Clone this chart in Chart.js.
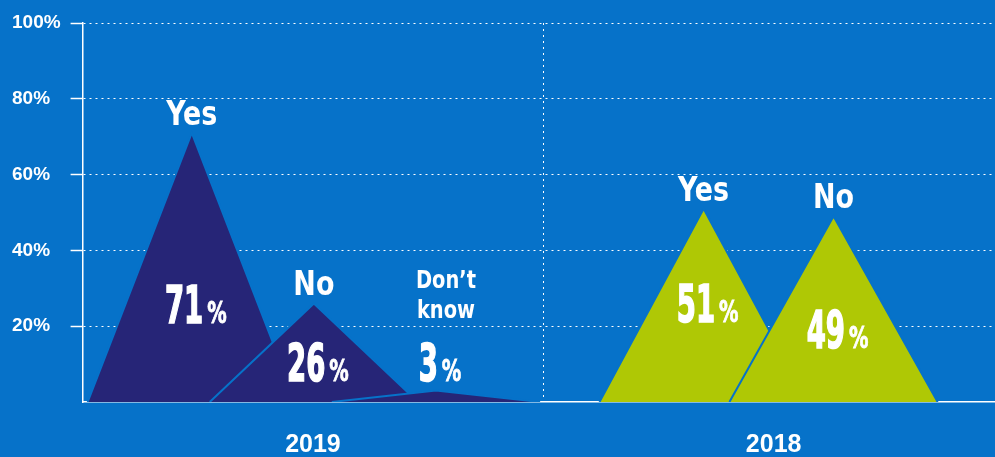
<!DOCTYPE html>
<html>
<head>
<meta charset="utf-8">
<script src="https://cdn.jsdelivr.net/npm/chart.js@4"></script>
<style>
  html, body { margin: 0; padding: 0; background: #0672c9; overflow: hidden; }
  #wrap { position: relative; width: 1005px; height: 488px; }
</style>
</head>
<body>
<div id="wrap"><canvas id="pollChart"></canvas></div>
<script>
const years = ['2019', '2018'];
const answers2019 = ['Yes', 'No', 'Don\u2019t know'];
const values2019 = [71, 26, 3];
const answers2018 = ['Yes', 'No'];
const values2018 = [51, 49];
const yTicks = [20, 40, 60, 80, 100];

const bg = '#0672c9';
const groupColors = ['#262577', '#afc805'];
// peak position inside each year column (column is 1 unit wide)
const peakOffsets = [[-0.263, 0.002, 0.267], [-0.152, 0.13]];
// height (in %) at which the value text is centred
const valueLevels = [[25.6, 10.3, 10.3], [25.9, 19]];
const halfBase = 0.226;
const narrow = '"Liberation Sans Narrow", "DejaVu Sans Condensed", "Liberation Sans", sans-serif';

const groups = [
    { answers: answers2019, values: values2019 },
    { answers: answers2018, values: values2018 }
];

const datasets = [];
groups.forEach((g, gi) => {
    g.values.forEach((v, i) => {
        const cx = gi + 0.5 + peakOffsets[gi][i];
        datasets.push({
            label: years[gi] + ' ' + g.answers[i],
            answer: g.answers[i],
            value: v,
            level: valueLevels[gi][i],
            data: [{ x: cx - halfBase, y: 0 }, { x: cx, y: v }, { x: cx + halfBase, y: 0 }],
            fill: 'origin',
            backgroundColor: groupColors[gi],
            borderColor: bg,
            borderWidth: 2,
            pointRadius: 0,
            tension: 0,
            order: -datasets.length
        });
    });
});

// text squeezed sideways, to get close to the condensed face of the original
function squeezed(ctx, text, x, y, font, sx, heavy) {
    ctx.save();
    ctx.translate(x, y);
    ctx.scale(sx, 1);
    ctx.font = font;
    ctx.fillText(text, 0, 0);
    if (heavy) {
        ctx.strokeStyle = '#ffffff';
        ctx.lineWidth = heavy;
        ctx.strokeText(text, 0, 0);
    }
    ctx.restore();
}

function drawValue(ctx, text, cx, cy) {
    const numFont = 'bold 51px ' + narrow;
    const pctFont = 'bold 30px ' + narrow;
    ctx.font = numFont;
    const wNum = ctx.measureText(text).width * 0.6;
    ctx.font = pctFont;
    const wPct = ctx.measureText('%').width * 0.72;
    const gap = 4;
    const left = cx - (wNum + gap + wPct) / 2;
    const base = cy + 18;
    ctx.textAlign = 'left';
    squeezed(ctx, text, left, base, numFont, 0.6, 1.6);
    squeezed(ctx, '%', left + wNum + gap, base, pctFont, 0.72, 0.8);
}

const peakLabels = {
    id: 'peakLabels',
    afterDatasetsDraw(chart) {
        const { ctx, scales: { x, y } } = chart;
        ctx.save();
        ctx.fillStyle = '#ffffff';
        ctx.textBaseline = 'alphabetic';
        chart.data.datasets.forEach(ds => {
            const peak = ds.data[1];
            const px = x.getPixelForValue(peak.x);
            const py = y.getPixelForValue(peak.y);
            const vy = y.getPixelForValue(ds.level);
            drawValue(ctx, String(ds.value), px + 4, vy);

            const words = ds.answer.split(' ');
            ctx.textAlign = 'center';
            if (words.length > 1) {
                const lastBase = Math.min(py - 10, vy - 19 - 26);
                words.forEach((w, i) => {
                    squeezed(ctx, w, px + 10, lastBase - (words.length - 1 - i) * 30, 'bold 24px ' + narrow, 0.9);
                });
            } else {
                squeezed(ctx, ds.answer, px, py - 8, 'bold 34px ' + narrow, 0.88);
            }
        });
        ctx.restore();
    }
};

new Chart(document.getElementById('pollChart'), {
    type: 'line',
    data: { datasets },
    options: {
        responsive: true,
        maintainAspectRatio: false,
        animation: false,
        layout: { padding: { left: 12, top: 23, right: 1, bottom: 0 } },
        plugins: {
            legend: { display: false },
            tooltip: { enabled: false }
        },
        scales: {
            x: {
                type: 'linear',
                min: 0,
                max: 2,
                z: 1,
                afterBuildTicks: s => { s.ticks = [0.5, 1, 1.5].map(v => ({ value: v })); },
                grid: {
                    color: c => (c.tick && c.tick.value === 1 ? '#ffffff' : 'rgba(0,0,0,0)'),
                    lineWidth: 1,
                    drawTicks: false
                },
                border: { display: true, color: '#ffffff', width: 1.5, dash: [2, 4] },
                ticks: {
                    color: '#ffffff',
                    font: { family: '"Liberation Sans", Arial, sans-serif', size: 25, weight: 'bold' },
                    padding: 28,
                    maxRotation: 0,
                    autoSkip: false,
                    callback: v => (v % 1 === 0.5 ? years[Math.floor(v)] : '')
                }
            },
            y: {
                min: 0,
                max: 100,
                afterBuildTicks: s => { s.ticks = yTicks.map(v => ({ value: v })); },
                grid: {
                    color: '#ffffff',
                    lineWidth: 1,
                    drawTicks: true,
                    tickLength: 12,
                    tickColor: '#ffffff',
                    tickWidth: 1.5
                },
                border: { display: true, color: '#ffffff', width: 1.5, dash: [2, 4] },
                ticks: {
                    color: '#ffffff',
                    font: { family: '"Liberation Sans", Arial, sans-serif', size: 19, weight: 'bold' },
                    padding: 5,
                    crossAlign: 'far',
                    callback: v => v + '%'
                }
            }
        }
    },
    plugins: [peakLabels]
});
</script>
</body>
</html>
